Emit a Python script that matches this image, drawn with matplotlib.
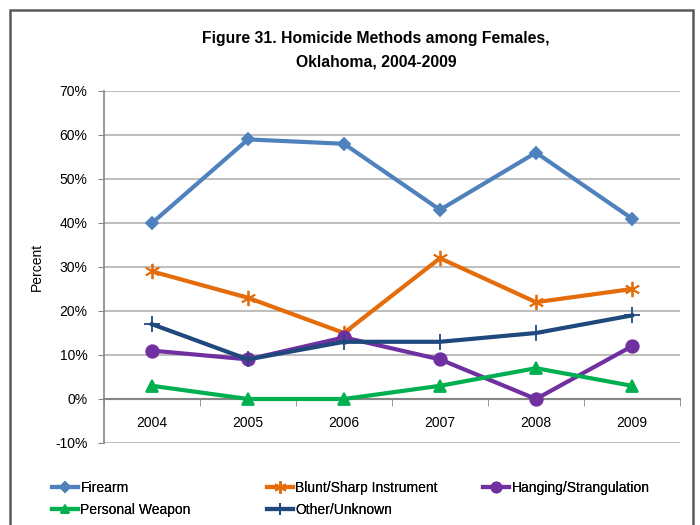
import matplotlib
matplotlib.use("Agg")
import matplotlib.pyplot as plt
from matplotlib.patches import Rectangle
from matplotlib import font_manager

years = ["2004", "2005", "2006", "2007", "2008", "2009"]
firearm = [40, 59, 58, 43, 56, 41]
blunt = [29, 23, 15, 32, 22, 25]
hanging = [11, 9, 14, 9, 0, 12]
personal = [3, 0, 0, 3, 7, 3]
other = [17, 9, 13, 13, 15, 19]
yticks = [-10, 0, 10, 20, 30, 40, 50, 60, 70]

names = {f.name for f in font_manager.fontManager.ttflist}
fam = "Liberation Sans Narrow" if "Liberation Sans Narrow" in names else "Liberation Sans"
plt.rcParams['font.family'] = [fam, 'DejaVu Sans']

W, H = 700, 525
fig = plt.figure(figsize=(7, 5.25), dpi=100)
fig.patches.append(Rectangle((10 / W, -0.1), (693 - 10) / W, 1.1 - 10 / H, transform=fig.transFigure,
                             fill=False, edgecolor="#595959", linewidth=1.8))

ax = fig.add_axes([104 / W, 1 - 443 / H, (680 - 104) / W, (443 - 91) / H])
x = list(range(len(years)))

series = [
    ("Firearm", firearm, "#4F81BD", "D", 6),
    ("Blunt/Sharp Instrument", blunt, "#E46C0A", (6, 2, 0), 11),
    ("Hanging/Strangulation", hanging, "#7030A0", "o", 9),
    ("Personal Weapon", personal, "#00B050", "^", 8),
    ("Other/Unknown", other, "#1F497D", "+", 11),
]
handles = {}
for name, vals, col, mk, ms in series:
    (h,) = ax.plot(x, vals, color=col, marker=mk, markersize=ms, linewidth=3,
                   markeredgecolor=col, markerfacecolor=col, markeredgewidth=1.3,
                   label=name, zorder=3)
    handles[name] = h

ax.set_xlim(-0.5, len(years) - 0.5)
ax.set_ylim(-10, 70)
ax.set_yticks(yticks)
ax.set_yticklabels([f"{v}%" for v in yticks], fontsize=10)
ax.yaxis.grid(True, color="#BFBFBF", linewidth=1.5)
ax.set_axisbelow(True)
for s in ["top", "right"]:
    ax.spines[s].set_visible(False)
ax.spines["left"].set_color("#868686")
ax.spines["left"].set_linewidth(1.2)
ax.spines["bottom"].set_position(("data", 0))
ax.spines["bottom"].set_color("#868686")
ax.spines["bottom"].set_linewidth(1.5)
ax.tick_params(axis="y", length=4, color="#868686", pad=8)
ax.set_xticks(x)
ax.set_xticklabels(years, fontsize=10)
ax.tick_params(axis="x", which="major", length=0, pad=12)
ax.set_xticks([i + 0.5 for i in range(-1, len(years))], minor=True)
ax.tick_params(axis="x", which="minor", length=5, color="#868686", direction="out")
ax.set_ylabel("Percent", fontsize=10, labelpad=8)

fig.text(376 / W, 1 - 38 / H, "Figure 31. Homicide Methods among Females,",
         ha="center", va="center", fontsize=11.3, fontweight="bold")
fig.text(376 / W, 1 - 62 / H, "Oklahoma, 2004-2009",
         ha="center", va="center", fontsize=11.3, fontweight="bold")

columns = [
    (52, ["Firearm", "Personal Weapon"]),
    (267, ["Blunt/Sharp Instrument", "Other/Unknown"]),
    (483, ["Hanging/Strangulation"]),
]
for xpix, labs in columns:
    leg = fig.legend([handles[n] for n in labs], labs, loc="upper left",
                     bbox_to_anchor=(xpix / W, 1 - 481 / H), ncol=1, frameon=False,
                     fontsize=10, handlelength=1.9, handletextpad=0.15, markerscale=0.8,
                     labelspacing=0.55, borderaxespad=0, borderpad=0)
    fig.add_artist(leg)

fig.savefig("out.png", dpi=100)
